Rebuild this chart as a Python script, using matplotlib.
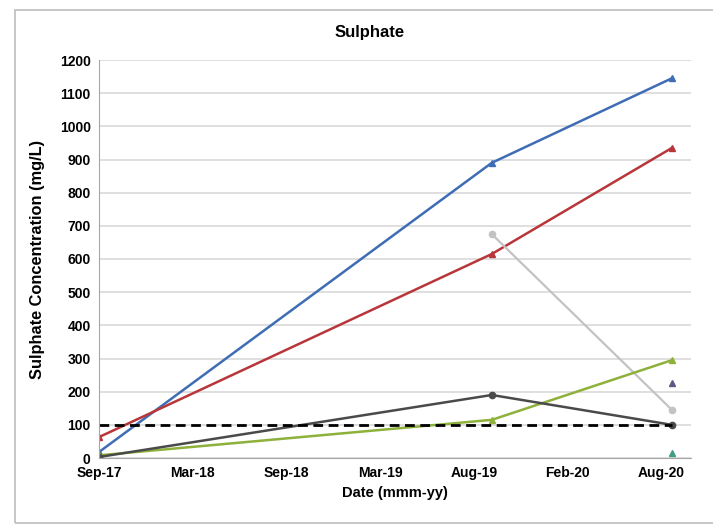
import matplotlib
matplotlib.use('Agg')
import matplotlib.pyplot as plt
import matplotlib.dates as mdates
from matplotlib.patches import Rectangle
import numpy as np
import datetime

plt.rcParams['font.family'] = ['Liberation Sans', 'DejaVu Sans']

# sampling dates
dates = [datetime.date(2017, 9, 2), datetime.date(2019, 10, 5), datetime.date(2020, 9, 19)]

# series values (mg/L)
blue_vals = [18, 890, 1145]
red_vals = [63, 615, 935]
green_vals = [8, 115, 295]
dark_vals = [3, 190, 100]
grey_vals = [675, 145]          # Aug-19, Aug-20 only
purple_val = [226]              # Aug-20 only
teal_val = [15]                 # Aug-20 only
guideline = 100

# axis
axis_start = datetime.date(2017, 9, 2)
axis_end = datetime.date(2020, 10, 26)
tick_step_days = 182
n_ticks = 7

fig = plt.figure(figsize=(7.13, 5.25), dpi=100)
# outer chart frame
fig.patches.append(Rectangle((15 / 713, 2 / 525), 1.0, 513 / 525, transform=fig.transFigure,
                             fill=False, edgecolor='#bdbdbd', linewidth=1.2))

ax = fig.add_axes([99 / 713, 67 / 525, 592 / 713, 398 / 525])

ax.plot(dates, blue_vals, '-^', color='#3f6db5', lw=1.8, ms=5)
ax.plot(dates, red_vals, '-^', color='#b8363a', lw=1.8, ms=5)
ax.plot(dates[1:], grey_vals, '-o', color='#c3c3c3', lw=1.6, ms=4.5)
ax.plot(dates, green_vals, '-^', color='#8db13a', lw=1.8, ms=5)
ax.plot(dates, dark_vals, '-o', color='#4a4a4a', lw=1.8, ms=4.5)
ax.plot([dates[0], dates[-1]], [guideline, guideline], '--', color='black', lw=2,
        dashes=(3.5, 2))
ax.plot(dates[-1:], purple_val, '^', color='#5a5a85', ms=5)
ax.plot(dates[-1:], teal_val, '^', color='#3e9e86', ms=5)

ax.set_ylim(0, 1200)
ax.set_yticks(np.arange(0, 1201, 100))
ax.set_xlim(mdates.date2num(axis_start), mdates.date2num(axis_end))
ticks = [axis_start + datetime.timedelta(days=tick_step_days * k) for k in range(n_ticks)]
ax.set_xticks([mdates.date2num(t) for t in ticks])
ax.xaxis.set_major_formatter(mdates.DateFormatter('%b-%y'))

ax.grid(axis='y', color='#d9d9d9', lw=1.2)
ax.set_axisbelow(True)
for s in ['top', 'right']:
    ax.spines[s].set_visible(False)
for s in ['left', 'bottom']:
    ax.spines[s].set_color('#a6a6a6')
ax.tick_params(length=0, labelsize=10, pad=6)
for lab in ax.get_xticklabels() + ax.get_yticklabels():
    lab.set_fontweight('bold')

fig.text(370 / 713, 1 - 33 / 525, 'Sulphate', fontsize=12, fontweight='bold',
         ha='center', va='center')
ax.set_xlabel('Date (mmm-yy)', fontsize=10.5, fontweight='bold', labelpad=4)
ax.set_ylabel('Sulphate Concentration (mg/L)', fontsize=11.8, fontweight='bold')
ax.yaxis.set_label_coords(-0.092, 0.5)

fig.savefig('out.png', dpi=100)
